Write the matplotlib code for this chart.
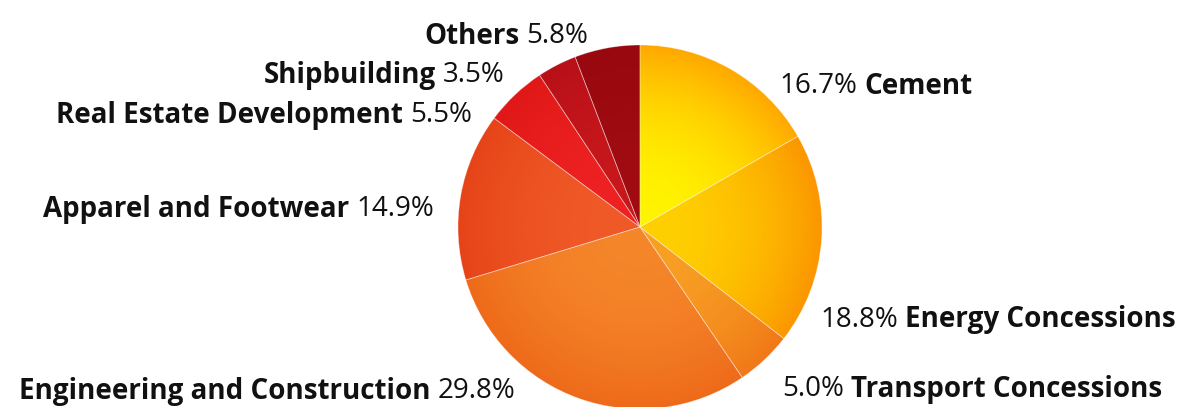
import numpy as np
import matplotlib
matplotlib.use('Agg')
import matplotlib.pyplot as plt
from matplotlib.colors import to_rgb

# data (clockwise from 12 o'clock)
sectors = ['Cement', 'Energy Concessions', 'Transport Concessions',
           'Engineering and Construction', 'Apparel and Footwear',
           'Real Estate Development', 'Shipbuilding', 'Others']
shares = [16.7, 18.8, 5.0, 29.8, 14.9, 5.5, 3.5, 5.8]
inner_colors = ['#fff400', '#ffd000', '#f8a024', '#f5862a', '#f05a28',
                '#ee2222', '#c8181c', '#a00c12']
outer_colors = ['#ffa800', '#fb9600', '#f07818', '#ee6a1a', '#e64418',
                '#e01818', '#b81018', '#98080e']

W, H = 1179, 407
fig = plt.figure(figsize=(W / 100, H / 100), dpi=100)
ax = fig.add_axes([0, 0, 1, 1])

cx, cy, R = 640, H - 227, 182

wedges, _ = ax.pie(shares, colors=inner_colors, startangle=90, counterclock=False,
                   center=(cx, cy), radius=R, frame=True,
                   wedgeprops=dict(linewidth=0.6, edgecolor=(1, 1, 1, 0.35)))
ax.set_xlim(0, W)
ax.set_ylim(0, H)
ax.set_aspect('equal')
ax.axis('off')

# radial gradient inside each slice
n = 400
yy, xx = np.mgrid[-1:1:n * 1j, -1:1:n * 1j]
rr = np.clip(np.sqrt(xx ** 2 + yy ** 2), 0, 1)[..., None]
for w, c0, c1 in zip(wedges, inner_colors, outer_colors):
    a, b = np.array(to_rgb(c0)), np.array(to_rgb(c1))
    img = a + (b - a) * rr ** 2.2
    im = ax.imshow(img, extent=[cx - R, cx + R, cy - R, cy + R], origin='lower',
                   interpolation='bilinear', zorder=w.get_zorder() + 0.1)
    im.set_clip_path(w)
    w.set_facecolor('none')
    w.set_zorder(w.get_zorder() + 0.2)

plt.rcParams['font.family'] = ['Open Sans', 'DejaVu Sans']
fs = 20
renderer = fig.canvas.get_renderer()


def label(x, y, name, pct, side):
    # name bold, percent regular; side='left' -> text ends at x, 'right' -> starts at x
    y = H - y - 3
    if side == 'left':
        t = ax.text(x, y, pct, ha='right', va='center', fontsize=fs, color='#111111')
        bb = t.get_window_extent(renderer)
        ax.text(bb.x0 - 7, y, name, ha='right', va='center', fontsize=fs,
                fontweight='bold', color='#111111')
    else:
        t = ax.text(x, y, pct, ha='left', va='center', fontsize=fs, color='#111111')
        bb = t.get_window_extent(renderer)
        ax.text(bb.x1 + 7, y, name, ha='left', va='center', fontsize=fs,
                fontweight='bold', color='#111111')


pos = {
    'Cement': (779, 83, 'right'),
    'Energy Concessions': (820, 317, 'right'),
    'Transport Concessions': (782, 386, 'right'),
    'Engineering and Construction': (515, 388, 'left'),
    'Apparel and Footwear': (434, 206, 'left'),
    'Real Estate Development': (472, 112, 'left'),
    'Shipbuilding': (505, 72, 'left'),
    'Others': (588, 33, 'left'),
}
for s, v in zip(sectors, shares):
    x, y, side = pos[s]
    label(x, y, s, f'{v:.1f}%', side)

fig.savefig('out.png', dpi=100)
